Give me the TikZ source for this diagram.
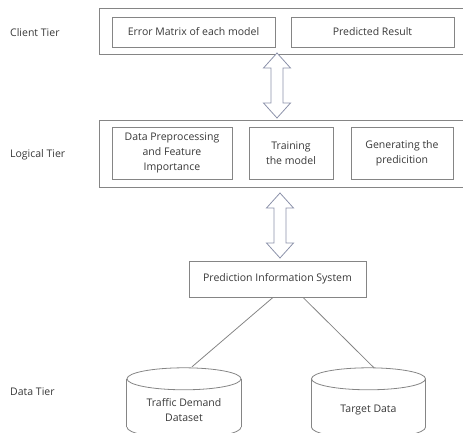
\documentclass[tikz,border=0pt]{standalone}
\usepackage{fontspec}
\setmainfont{Open Sans}
\usetikzlibrary{shapes.geometric,positioning,calc}

\definecolor{boxline}{HTML}{858585}
\definecolor{arrowline}{HTML}{8C92AA}
\definecolor{ink}{HTML}{383838}

% hollow two-headed arrow between two named points (tip to tip)
\newcommand\tierlink[2]{%
  \draw[link] let \p1=(#1), \p2=(#2) in
    (\x1,\y1) -- (\x1+13.5pt,\y1-15pt) -- (\x1+6pt,\y1-15pt)
    -- (\x1+6pt,\y2+15pt) -- (\x1+13.5pt,\y2+15pt) -- (\x1,\y2)
    -- (\x1-13.5pt,\y2+15pt) -- (\x1-6pt,\y2+15pt)
    -- (\x1-6pt,\y1-15pt) -- (\x1-13.5pt,\y1-15pt) -- cycle;}

% drum outline round a store node (top cap centred on its north side)
\newcommand\datastore[1]{%
  \draw[storeline] (#1.north) ellipse [x radius=57pt,y radius=11pt];
  \draw[storeline] (#1.north west) -- ([yshift=14pt]#1.south west)
    (#1.north east) -- ([yshift=14pt]#1.south east);
  \begin{scope}
    \clip ([xshift=-2pt,yshift=14pt]#1.south west) rectangle ([xshift=2pt,yshift=-2pt]#1.south east);
    \draw[storeline] ([yshift=14pt]#1.south) ellipse [x radius=57pt,y radius=11pt];
  \end{scope}}

\begin{document}
\begin{tikzpicture}[x=1pt,y=-1pt,font=\fontsize{10.5}{15}\selectfont,text=ink,
    tier/.style={draw=boxline,line width=0.8pt,minimum width=367pt,inner sep=0pt},
    item/.style={draw=boxline,line width=0.8pt,align=center,inner sep=0pt},
    tiername/.style={anchor=west,inner sep=0pt},
    store/.style={minimum width=114pt,minimum height=62pt,align=center,inner sep=0pt},
    storeline/.style={draw=boxline,line width=0.8pt},
    link/.style={draw=arrowline,fill=white,line width=0.8pt,line join=miter},
    wire/.style={draw=boxline,line width=0.8pt}]
  \useasboundingbox (0,0) rectangle (463,433);

  % client tier
  \node[tiername] (clientname) at (10,33) {Client Tier};
  \node[tier,minimum height=46pt] (client) at (282.5,31) {};
  \node[item,minimum width=163pt,minimum height=30pt] (errmat) at (193.5,32) {Error Matrix of each model};
  \node[item,minimum width=163pt,minimum height=30pt] (result) at (372.5,32) {Predicted Result};

  % logical tier
  \node[tiername] (logicname) at (10,155) {Logical Tier};
  \node[tier,minimum height=67pt] (logic) at (282.5,153.5) {};
  \node[item,minimum width=120pt,minimum height=52pt] (prep) at (172,153) {Data Preprocessing\\and Feature\\Importance};
  \node[item,minimum width=84pt,minimum height=52pt] (train) at (291,153) {Training\\the model};
  \node[item,minimum width=102pt,minimum height=52pt] (gen) at (402,153) {Generating the\\predicition};

  \node[item,minimum width=177pt,minimum height=36pt] (pis) at (277.5,279) {Prediction Information System};

  % data tier
  \node[tiername] (dataname) at (10,392) {Data Tier};
  \node[store] (traffic) at (184,410) {Traffic Demand\\Dataset};
  \node[store,minimum width=113pt] (target) at (368.5,410) {Target Data};
  \datastore{traffic}
  \datastore{target}

  \coordinate (up1) at (277,53);
  \coordinate (down1) at (277,118);
  \coordinate (up2) at (280,193);
  \coordinate (down2) at (280,258);
  \tierlink{up1}{down1}
  \tierlink{up2}{down2}

  \draw[wire] ([xshift=-4.5pt]pis.south) -- ([xshift=8pt,yshift=12pt]traffic.north);
  \draw[wire] ([xshift=25.5pt]pis.south) -- ([xshift=5.5pt,yshift=11pt]target.north);
\end{tikzpicture}
\end{document}
